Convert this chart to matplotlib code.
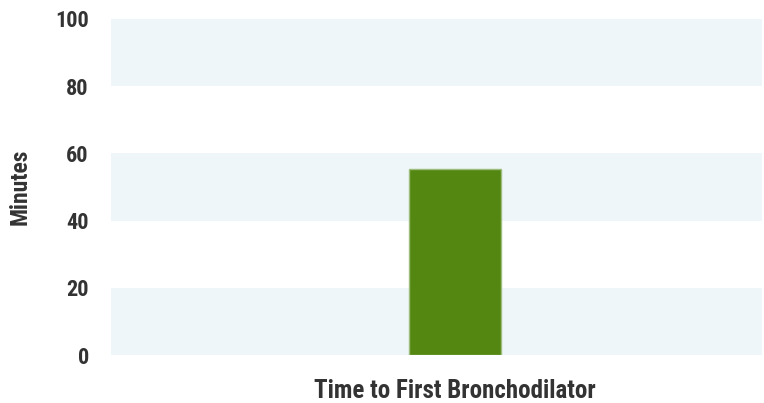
import matplotlib.pyplot as plt

# data
categories = ["Time to First Bronchodilator"]
minutes = [55.3]
yticks = [0, 20, 40, 60, 80, 100]

plt.rcParams['font.family'] = ['Roboto Condensed', 'Roboto', 'DejaVu Sans']

fig = plt.figure(figsize=(7.64, 4.03), dpi=100)
ax = fig.add_axes([0.1453, 0.1191, 0.852, 0.8338])

# alternating background bands
for i in range(0, 100, 40):
    ax.axhspan(i, i + 20, color='#eef6f9', lw=0, zorder=0)
ax.axhspan(80, 100, color='#eef6f9', lw=0, zorder=0)

xs = list(range(len(categories)))
ax.bar(xs, minutes, width=0.5, color='#548712', edgecolor='#9cbd7c', linewidth=1, zorder=2)

ax.set_xlim(-1.87, 1.67)
ax.set_ylim(0, 100)
ax.set_yticks(yticks)
ax.set_xticks(xs)
ax.set_xticklabels(categories)
ax.tick_params(length=0, labelcolor='#333333')
ax.tick_params(axis='y', pad=16, labelsize=16)
ax.tick_params(axis='x', pad=17, labelsize=18)
for lab in ax.get_xticklabels() + ax.get_yticklabels():
    lab.set_fontweight('bold')
ax.set_ylabel("Minutes", fontsize=17, fontweight='bold', color='#333333', labelpad=17)
for s in ax.spines.values():
    s.set_visible(False)

plt.savefig("out.png", dpi=100)
